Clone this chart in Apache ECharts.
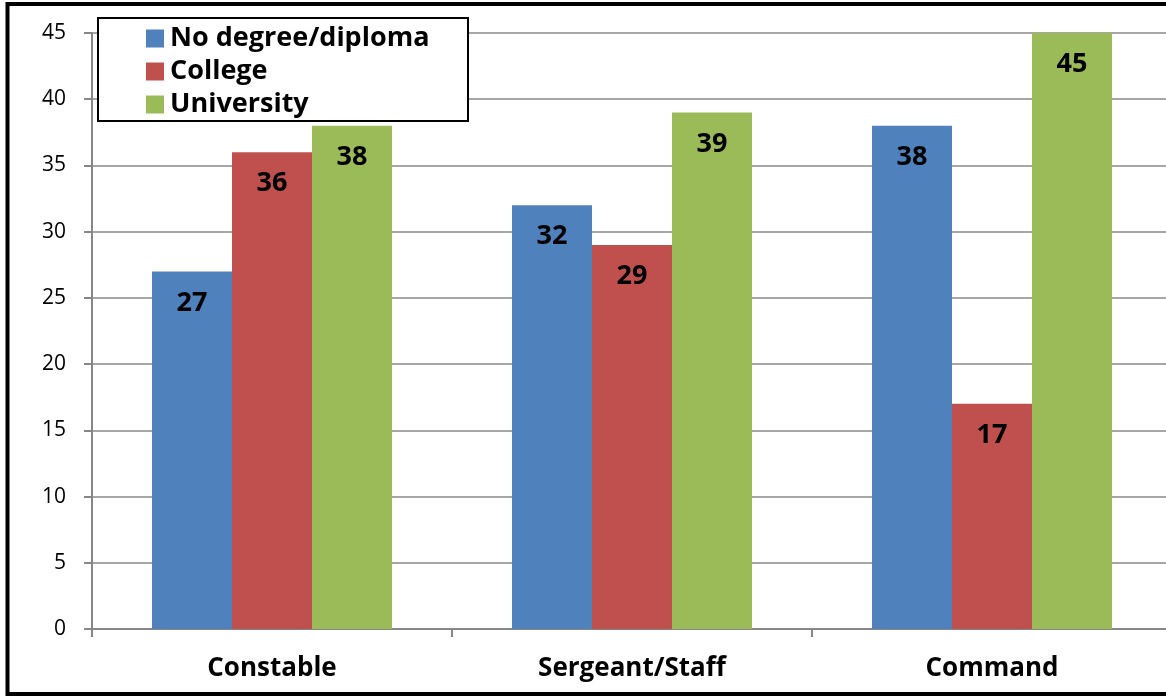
<!DOCTYPE html>
<html>
<head>
<meta charset="utf-8">
<script src="https://cdn.jsdelivr.net/npm/echarts@6/dist/echarts.min.js"></script>
<style>
  html, body { margin: 0; padding: 0; background: #fff; }
  #chart { width: 1166px; height: 696px; }
</style>
</head>
<body>
<div id="chart"></div>
<script>
const categories = ['Constable', 'Sergeant/Staff', 'Command']
const seriesNames = ['No degree/diploma', 'College', 'University']
const noDegree = [27, 32, 38]
const college = [36, 29, 17]
const university = [38, 39, 45]
const colors = ['#4F81BD', '#C0504D', '#9BBB59']

const font = '"Open Sans", Lato, sans-serif'

const makeSeries = (name, data, color) => ({
  name: name,
  type: 'bar',
  data: data,
  barWidth: 80,
  barGap: '0%',
  itemStyle: { color: color },
  label: {
    show: true,
    position: 'insideTop',
    distance: 18,
    color: '#000',
    fontFamily: font,
    fontWeight: 'bold',
    fontSize: 27
  }
})

const chart = echarts.init(document.getElementById('chart'))
const option = {
  animation: false,
  backgroundColor: '#fff',
  grid: { left: 92, width: 1080, top: 33, bottom: 67, outerBoundsMode: 'none', containLabel: false },
  xAxis: {
    type: 'category',
    data: categories,
    axisLine: { lineStyle: { color: '#878787', width: 2 } },
    axisTick: { show: true, length: 8, lineStyle: { color: '#878787', width: 2 } },
    axisLabel: {
      margin: 27,
      color: '#000',
      fontFamily: font,
      fontWeight: 'bold',
      fontSize: 26
    }
  },
  yAxis: {
    type: 'value',
    min: 0,
    max: 45,
    interval: 5,
    axisLine: { show: true, lineStyle: { color: '#878787', width: 2 } },
    axisTick: { show: true, length: 8, lineStyle: { color: '#878787', width: 2 } },
    axisLabel: { margin: 26, color: '#000', fontFamily: font, fontSize: 21 },
    splitLine: { lineStyle: { color: '#a6a6a6', width: 2 } }
  },
  legend: {
    orient: 'vertical',
    left: 141,
    top: 20,
    z: 101,
    icon: 'rect',
    itemWidth: 18,
    itemHeight: 18,
    itemGap: 6,
    data: seriesNames,
    textStyle: { color: '#000', fontFamily: font, fontWeight: 'bold', fontSize: 27, padding: [0, 0, 0, 1] }
  },
  graphic: [
    {
      type: 'rect',
      z: 100,
      shape: { x: 98, y: 18, width: 370, height: 103 },
      style: { fill: '#fff', stroke: '#000', lineWidth: 2 }
    },
    {
      type: 'rect',
      z: 100,
      shape: { x: 7.5, y: 4, width: 1200, height: 690 },
      style: { fill: 'none', stroke: '#000', lineWidth: 4 }
    }
  ],
  series: [
    makeSeries(seriesNames[0], noDegree, colors[0]),
    makeSeries(seriesNames[1], college, colors[1]),
    makeSeries(seriesNames[2], university, colors[2])
  ]
}
chart.setOption(option)
</script>
</body>
</html>
